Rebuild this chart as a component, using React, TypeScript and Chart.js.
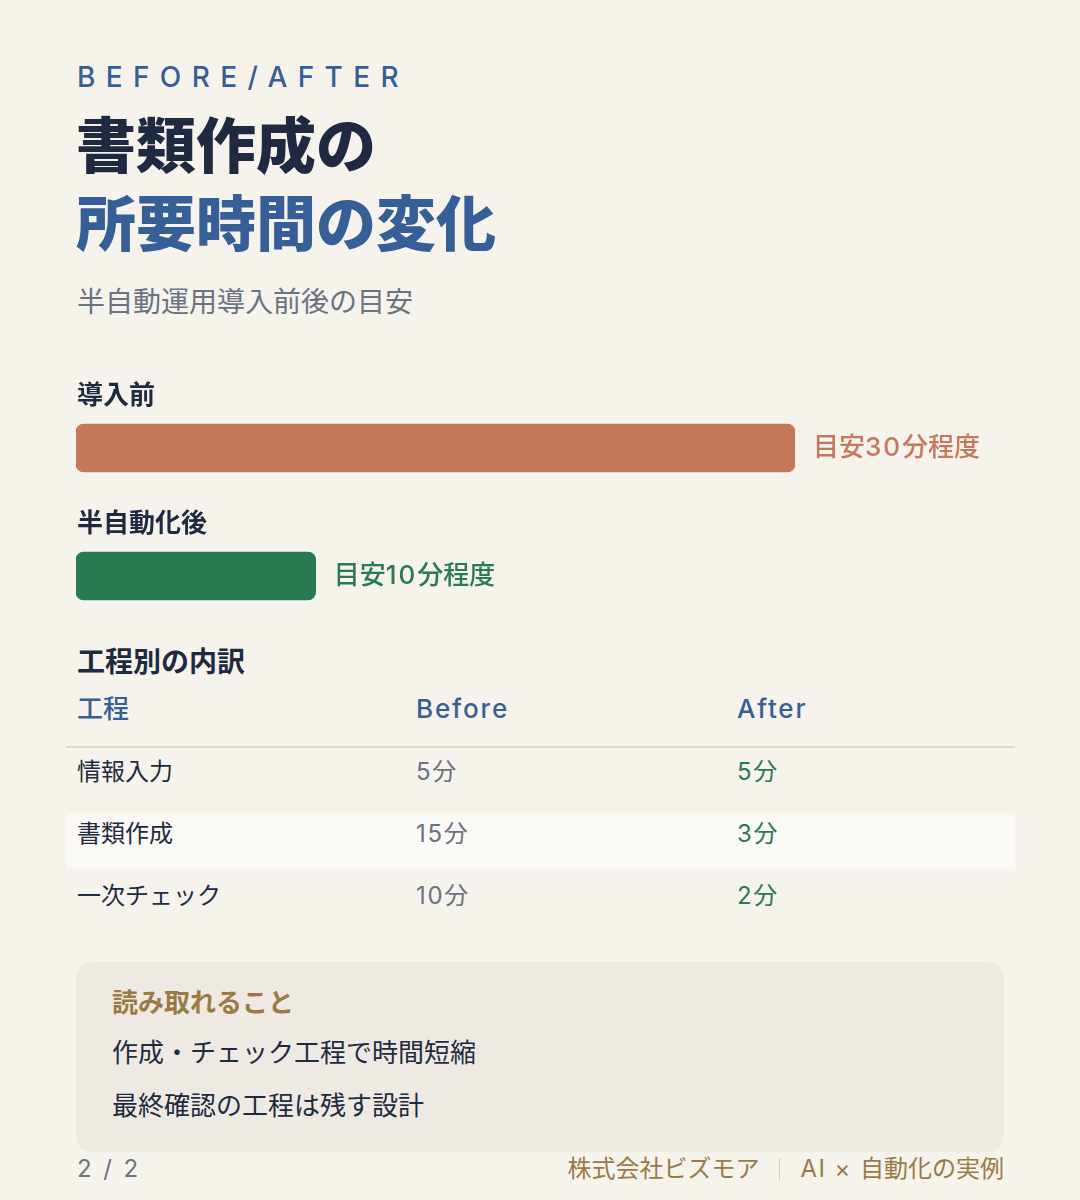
import React, { useEffect, useRef } from "react";
import { Chart, registerables } from "chart.js";

Chart.register(...registerables);

// ---- data ----
const barCategories = ["導入前", "半自動化後"];
const barValues = [30, 10];
const barValueLabels = ["目安30分程度", "目安10分程度"];
const barColors = ["#c6785a", "#2a7a51"];
const axisMax = 30;

const tableHeaders = ["工程", "Before", "After"];
const steps = ["情報入力", "書類作成", "一次チェック"];
const beforeMinutes = [5, 15, 10];
const afterMinutes = [5, 3, 2];

const takeaways = ["作成・チェック工程で時間短縮", "最終確認の工程は残す設計"];

const FONT = 'Inter, "Noto Sans CJK JP", "Noto Sans", sans-serif';
const NAVY = "#1f2a40";
const BLUE = "#375f97";
const GRAY = "#6b7280";
const GREEN = "#2a7a51";
const GOLD = "#9a7a45";
const LATIN_RE = /([A-Za-z0-9\/×]+(?:\s+[A-Za-z0-9\/×]+)*\s*)/;

// widen latin runs a bit (reference latin glyphs are wider than Inter)
function mixed(text: string, spacing = "0.07em") {
  return text.split(LATIN_RE).map((part, i) =>
    i % 2 === 1 ? (
      <span key={i} style={{ letterSpacing: spacing }}>
        {part}
      </span>
    ) : (
      <React.Fragment key={i}>{part}</React.Fragment>
    )
  );
}

function Txt(props: {
  x?: number;
  right?: number;
  cy: number;
  size: number;
  weight?: number;
  color: string;
  children: React.ReactNode;
  style?: React.CSSProperties;
}) {
  const lh = Math.round(props.size * 1.3);
  const top = props.cy - lh / 2 - props.size * 0.06 + 2;
  const s: React.CSSProperties = {
    position: "absolute",
    top,
    fontSize: props.size,
    lineHeight: lh + "px",
    fontWeight: props.weight ?? 400,
    color: props.color,
    whiteSpace: "nowrap",
    fontFamily: FONT,
    ...props.style,
  };
  if (props.right !== undefined) s.right = props.right;
  else s.left = props.x;
  return <div style={s}>{props.children}</div>;
}

function drawMixed(ctx: CanvasRenderingContext2D, text: string, x: number, y: number, extra: number) {
  let cx = x;
  const parts = text.split(LATIN_RE);
  parts.forEach((part, i) => {
    if (!part) return;
    if (i % 2 === 1) {
      for (const ch of part) {
        ctx.fillText(ch, cx, y);
        cx += ctx.measureText(ch).width + extra;
      }
    } else {
      ctx.fillText(part, cx, y);
      cx += ctx.measureText(part).width;
    }
  });
}

const labelPlugin = {
  id: "barLabels",
  afterDatasetsDraw(chart: any) {
    const ctx = chart.ctx;
    const meta = chart.getDatasetMeta(0);
    meta.data.forEach((bar: any, i: number) => {
      const p = bar.getProps(["x", "y", "height"], true);
      ctx.save();
      ctx.textBaseline = "middle";
      ctx.textAlign = "left";
      ctx.font = `700 26px ${FONT}`;
      ctx.fillStyle = NAVY;
      ctx.fillText(barCategories[i], chart.chartArea.left + 1, p.y - p.height / 2 - 28);
      ctx.font = `500 26px ${FONT}`;
      ctx.fillStyle = barColors[i];
      drawMixed(ctx, barValueLabels[i], p.x + 18, p.y, 2);
      ctx.restore();
    });
  },
};

function BarChart() {
  const ref = useRef<HTMLCanvasElement | null>(null);
  useEffect(() => {
    if (!ref.current) return;
    const chart = new Chart(ref.current, {
      type: "bar",
      data: {
        labels: barCategories,
        datasets: [
          {
            data: barValues,
            backgroundColor: barColors,
            borderRadius: 8,
            borderSkipped: false,
            barThickness: 48,
          },
        ],
      },
      options: {
        indexAxis: "y",
        responsive: false,
        animation: false,
        events: [],
        layout: { padding: { top: 24, right: 211, left: 0, bottom: 0 } },
        plugins: { legend: { display: false }, tooltip: { enabled: false } },
        scales: {
          x: { display: false, min: 0, max: axisMax },
          y: { display: false },
        },
      },
      plugins: [labelPlugin],
    } as any);
    return () => chart.destroy();
  }, []);
  return (
    <canvas
      ref={ref}
      width={930}
      height={280}
      style={{ position: "absolute", left: 76, top: 360, width: 930, height: 280 }}
    />
  );
}

export default function App() {
  const colX = [77, 416, 737];
  const rowCy = [771, 833, 895];
  return (
    <div
      style={{
        position: "absolute",
        left: 0,
        top: 0,
        width: 1080,
        height: 1200,
        background: "#f6f3ed",
        fontFamily: FONT,
        overflow: "hidden",
      }}
    >
      <Txt x={77} cy={77} size={28} weight={500} color={BLUE} style={{ letterSpacing: "0.37em" }}>
        BEFORE/AFTER
      </Txt>
      <div
        style={{
          position: "absolute",
          left: 76,
          top: 107,
          fontSize: 60,
          lineHeight: "78px",
          fontWeight: 900,
          fontFamily: FONT,
          whiteSpace: "nowrap",
        }}
      >
        <div style={{ color: NAVY }}>書類作成の</div>
        <div style={{ color: BLUE }}>所要時間の変化</div>
      </div>
      <Txt x={77} cy={302} size={28} color={GRAY}>
        半自動運用導入前後の目安
      </Txt>

      <BarChart />

      <Txt x={77} cy={662} size={28} weight={700} color={NAVY}>
        工程別の内訳
      </Txt>

      {tableHeaders.map((h, i) => (
        <Txt key={h} x={colX[i]} cy={709} size={26} weight={500} color={BLUE}>
          {mixed(h)}
        </Txt>
      ))}
      <div style={{ position: "absolute", left: 66, top: 746, width: 949, height: 2, background: "#dcd8ce" }} />
      <div style={{ position: "absolute", left: 66, top: 813, width: 949, height: 56, background: "#faf9f5" }} />
      {steps.map((s, r) => (
        <React.Fragment key={s}>
          <Txt x={colX[0]} cy={rowCy[r]} size={24} color={NAVY}>
            {s}
          </Txt>
          <Txt x={colX[1]} cy={rowCy[r]} size={24} color={GRAY}>
            {mixed(beforeMinutes[r] + "分")}
          </Txt>
          <Txt x={colX[2]} cy={rowCy[r]} size={24} color={GREEN}>
            {mixed(afterMinutes[r] + "分")}
          </Txt>
        </React.Fragment>
      ))}

      <div
        style={{
          position: "absolute",
          left: 76,
          top: 962,
          width: 928,
          height: 190,
          borderRadius: 16,
          background: "#eeeae3",
        }}
      />
      <Txt x={112} cy={1003} size={26} weight={700} color={GOLD}>
        読み取れること
      </Txt>
      {takeaways.map((t, i) => (
        <Txt key={t} x={112} cy={1053 + i * 53} size={26} color={NAVY}>
          {t}
        </Txt>
      ))}

      <Txt x={77} cy={1168} size={24} color={GRAY} style={{ letterSpacing: "0.1em" }}>
        2 / 2
      </Txt>
      <Txt right={76} cy={1168} size={24} color={GOLD} style={{ display: "flex", alignItems: "center" }}>
        <span>株式会社ビズモア</span>
        <span style={{ display: "inline-block", width: 1, height: 22, background: "#d8ccb4", margin: "0 20px" }} />
        <span>{mixed("AI × 自動化の実例", "0.06em")}</span>
      </Txt>
    </div>
  );
}
